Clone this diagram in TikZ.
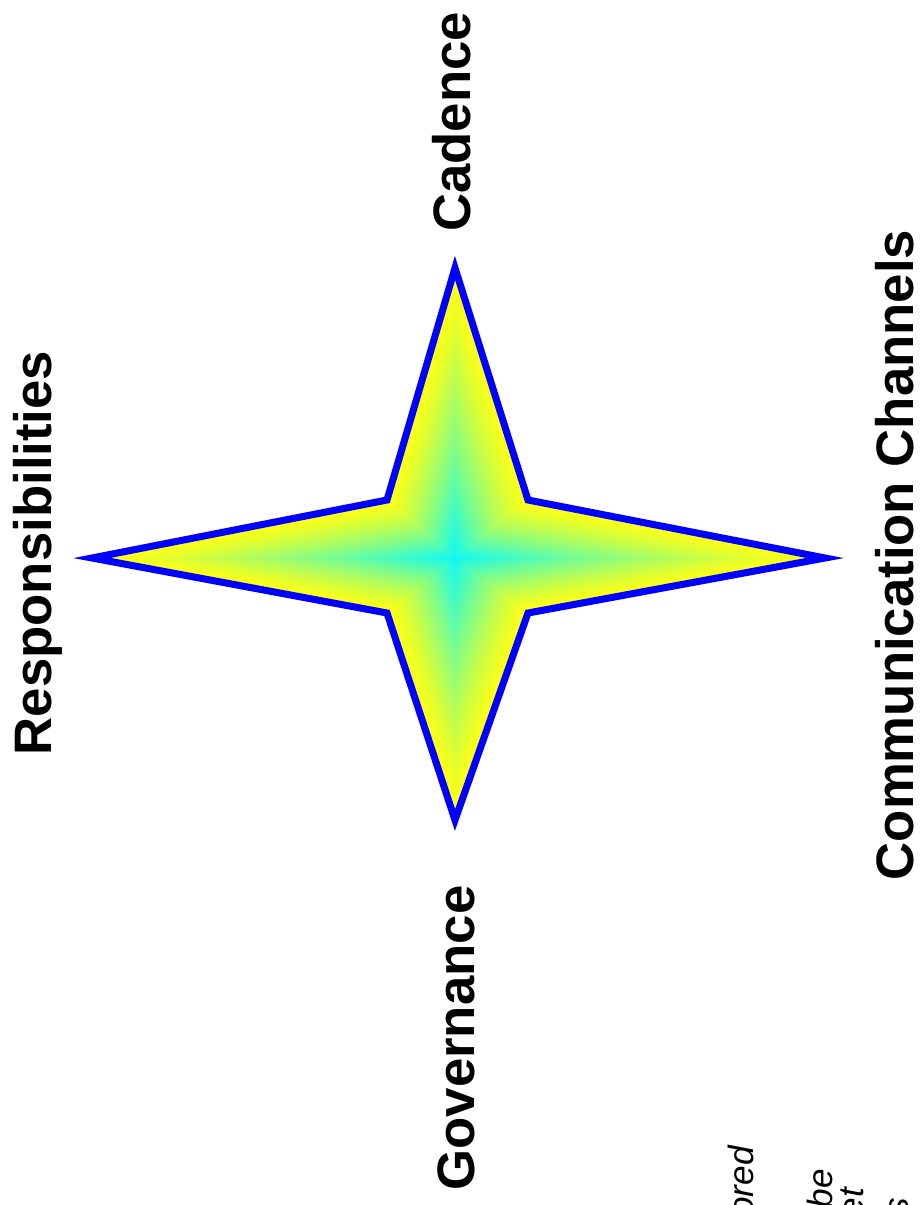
\documentclass[tikz,border=0pt]{standalone}
\usepackage{fontspec}
\setmainfont{Liberation Sans}
\usepackage{tikz}

\definecolor{starcyan}{RGB}{20,250,240}
\definecolor{staryellow}{RGB}{255,255,20}
\definecolor{starblue}{RGB}{0,0,255}

\tikzset{
  starpath/.style={insert path={(-7.26,0) -- (-1.36,1.16) -- (0,5.8) -- (1.46,1.16)
      -- (7.4,0) -- (1.46,-1.1) -- (0,-5.24) -- (-1.36,-1.1) -- cycle}},
  axislabel/.style={rotate=90, anchor=base, font=\fontsize{30}{36}\selectfont\bfseries},
  cutlabel/.style={rotate=90, anchor=base east, font=\fontsize{20}{24}\selectfont\itshape}
}

\begin{document}
\begin{tikzpicture}

  \useasboundingbox (0,0) rectangle (18.38,-24.1);

  % Star centre
  \coordinate (C) at (9.1,-11.16);

  % Yellow to cyan fill, shrinking copies of the star
  \foreach \i in {0,...,40} {
    \pgfmathsetmacro{\s}{1-\i/41}
    \pgfmathsetmacro{\m}{100*(\i/40)^1.3}
    \fill[shift={(C)}, scale=\s, starcyan!\m!staryellow, starpath];
  }

  % Blue outline
  \draw[shift={(C)}, line width=4pt, starblue, starpath];

  % Labels round the star
  \node[axislabel] (resp) at (1.04,-11.06) {Responsibilities};
  \node[axislabel] (cad)  at (9.4,-2.44)   {Cadence};
  \node[axislabel] (gov)  at (9.48,-20.76) {Governance};
  \node[axislabel] (comm) at (18.26,-11.1) {Communication Channels};

  % Cut off lines at the bottom edge
  \node[cutlabel] (ored) at (15.06,-22.8)  {ored};
  \node[cutlabel] (be)   at (16.64,-23.26) {be};
  \node[cutlabel] (et)   at (17.26,-23.64) {et};
  \node[cutlabel] (s)    at (18.16,-23.84) {s};

\end{tikzpicture}
\end{document}
